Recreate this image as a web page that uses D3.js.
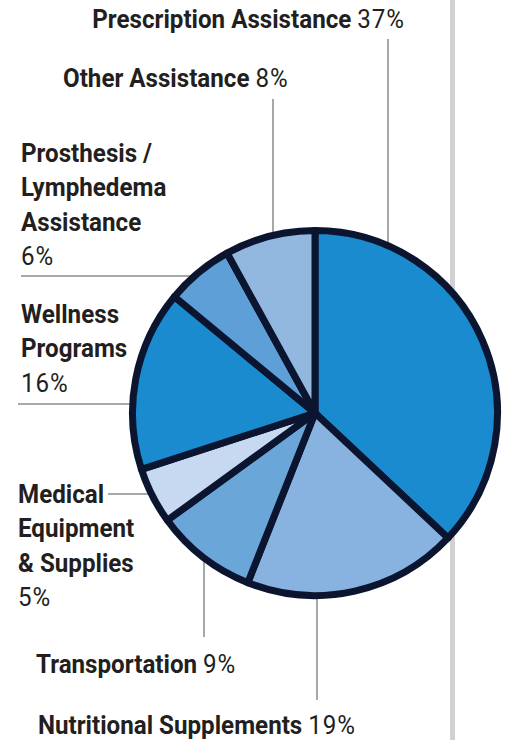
<!DOCTYPE html>
<html>
<head>
<meta charset="utf-8">
<script src="https://cdn.jsdelivr.net/npm/d3@7"></script>
<style>
  html, body { margin: 0; padding: 0; background: #fff; }
  svg { display: block; }
  text { font-family: Roboto, "Liberation Sans", sans-serif; fill: #231f20; }
  .pct { font-weight: normal; letter-spacing: 1px; }
  .nm { font-weight: bold; }
</style>
</head>
<body>
<div id="chart"></div>
<script>
// data, read clockwise from 12 o'clock
var categories = ["Prescription Assistance", "Nutritional Supplements", "Transportation",
  "Medical Equipment & Supplies", "Wellness Programs", "Prosthesis / Lymphedema Assistance", "Other Assistance"];
var values = [37, 19, 9, 5, 16, 6, 8];
var colors = ["#1b8bcf", "#88b2e0", "#6aa6d8", "#c6d9f0", "#1b8bcf", "#5d9fd6", "#92b8e0"];
var nameLines = [
  ["Prescription Assistance"], ["Nutritional Supplements"], ["Transportation"],
  ["Medical", "Equipment", "& Supplies"], ["Wellness", "Programs"],
  ["Prosthesis /", "Lymphedema", "Assistance"], ["Other Assistance"]
];

var W = 511, H = 740;
var cx = 315, cy = 413, R = 182.5, Rout = 186;
var lineH = 34.5;
var squeeze = 0.93; // the original face is a condensed grotesque

// label layout: where the text sits and which way the leader runs
var layout = [
  { x: 405, y: 28, anchor: "end", lead: { dir: "v", at: 388, from: 39 } },
  { x: 38, y: 734, anchor: "start", lead: { dir: "v", at: 317, from: 700 } },
  { x: 36, y: 673, anchor: "start", lead: { dir: "v", at: 204, from: 637 } },
  { x: 18, y: 503, anchor: "start", lead: { dir: "h", at: 494, from: 108 } },
  { x: 21, y: 323, anchor: "start", lead: { dir: "h", at: 404, from: 18 } },
  { x: 21, y: 162, anchor: "start", lead: { dir: "h", at: 276, from: 21 } },
  { x: 63, y: 87, anchor: "start", lead: { dir: "v", at: 273, from: 99 } }
];

var svg = d3.select('#chart').append('svg')
  .attr('width', W)
  .attr('height', H);

// grey rule on the right
svg.append('rect')
  .attr('x', 450).attr('y', 0)
  .attr('width', 5).attr('height', H)
  .attr('fill', '#d1d1d3');

// leader lines (run into the pie edge)
layout.forEach(function (l) {
  var ld = l.lead, x1, y1, x2, y2, d;
  if (ld.dir === "v") {
    d = Math.sqrt(Rout * Rout - (ld.at - cx) * (ld.at - cx));
    x1 = x2 = ld.at;
    y1 = ld.from;
    y2 = ld.from < cy ? cy - d + 2 : cy + d - 2;
  } else {
    d = Math.sqrt(Rout * Rout - (ld.at - cy) * (ld.at - cy));
    y1 = y2 = ld.at;
    x1 = ld.from;
    x2 = cx - d + 2;
  }
  svg.append('line')
    .attr('x1', x1).attr('y1', y1)
    .attr('x2', x2).attr('y2', y2)
    .attr('stroke', '#a7a8ab')
    .attr('stroke-width', 2);
});

var pie = d3.pie().sort(null).value(function (d) { return d; });
var arc = d3.arc().innerRadius(0).outerRadius(R);

var g = svg.append('g').attr('transform', 'translate(' + cx + ',' + cy + ')');
g.selectAll('path').data(pie(values))
  .enter().append('path')
  .attr('d', arc)
  .attr('fill', function (d, i) { return colors[i]; })
  .attr('stroke', '#0b1530')
  .attr('stroke-width', 7)
  .attr('stroke-linejoin', 'round');

// labels
categories.forEach(function (c, i) {
  var l = layout[i];
  var lines = nameLines[i];
  var t = svg.append('text')
    .attr('transform', 'translate(' + l.x + ',' + l.y + ') scale(' + squeeze + ',1)')
    .attr('text-anchor', l.anchor)
    .style('font-size', '26px');
  if (lines.length === 1) {
    t.append('tspan').attr('class', 'nm').text(lines[0] + ' ');
    t.append('tspan').attr('class', 'pct').text(values[i] + '%');
  } else {
    lines.forEach(function (s, k) {
      t.append('tspan').attr('x', 0).attr('dy', k === 0 ? 0 : lineH)
        .attr('class', 'nm').text(s);
    });
    t.append('tspan').attr('x', 0).attr('dy', lineH)
      .attr('class', 'pct').text(values[i] + '%');
  }
});
</script>
</body>
</html>
